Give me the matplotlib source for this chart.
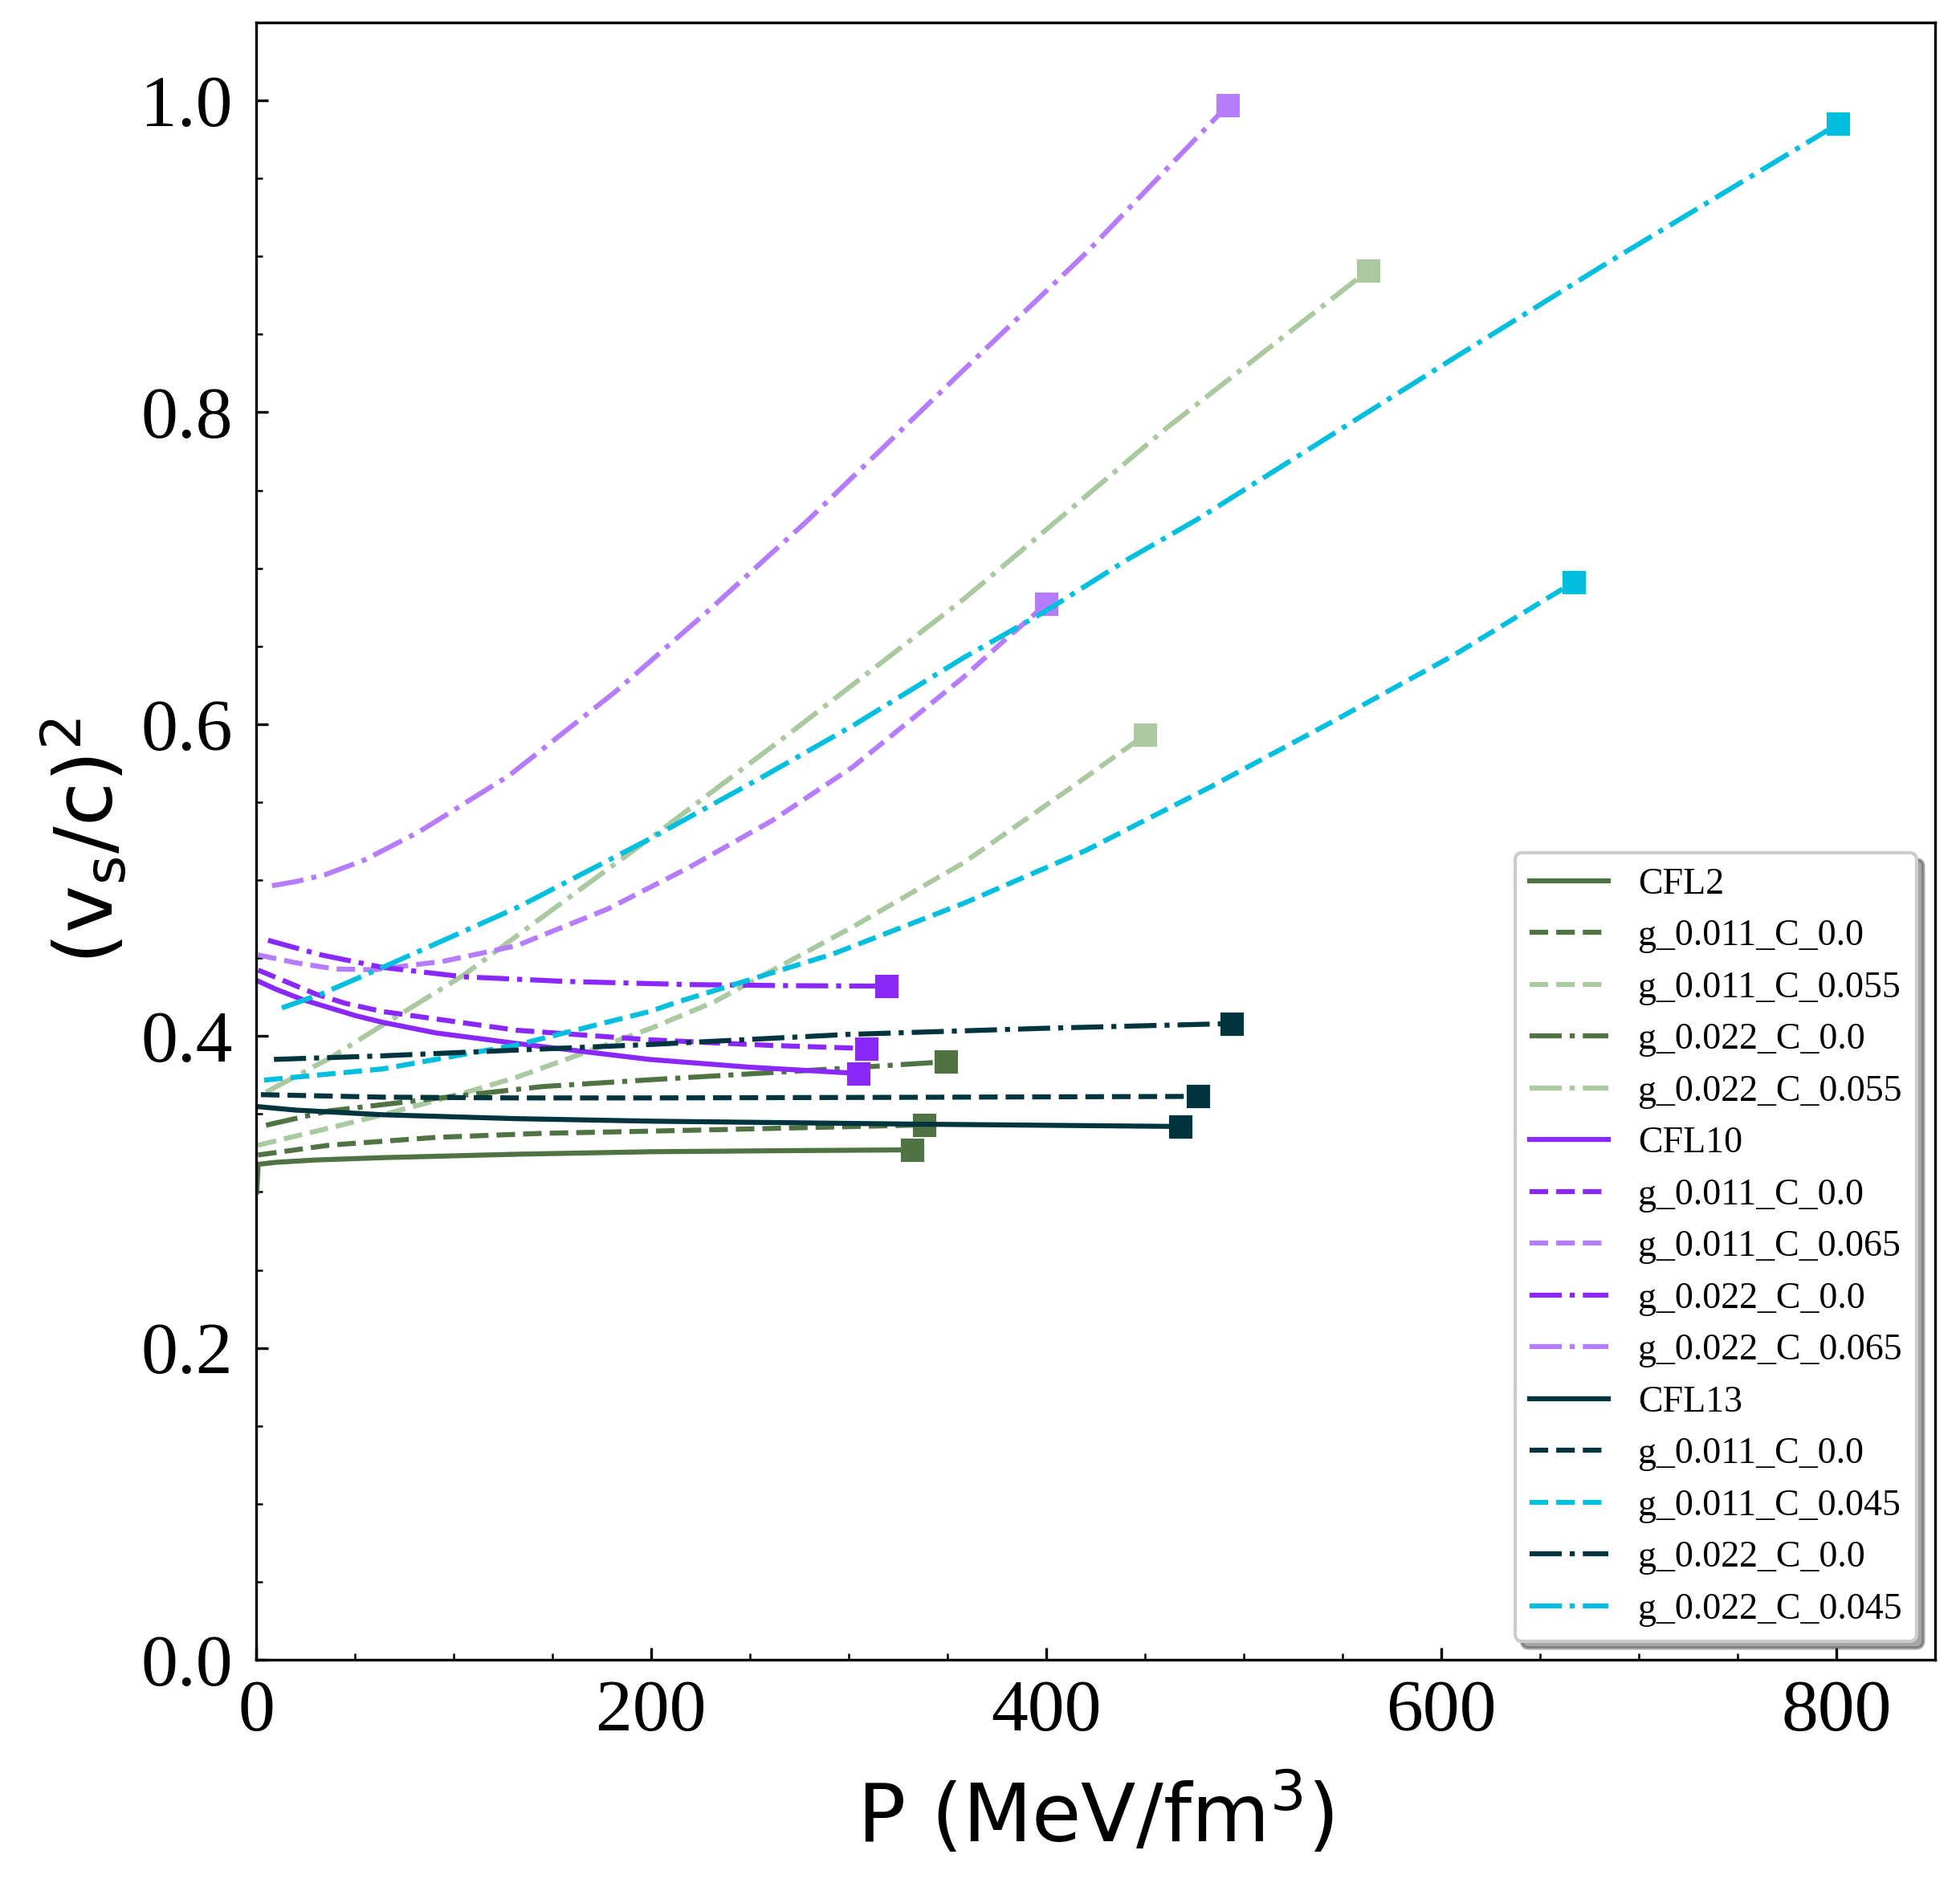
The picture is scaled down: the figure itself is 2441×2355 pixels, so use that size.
import matplotlib
matplotlib.use("Agg")
import matplotlib.pyplot as plt
from matplotlib.ticker import MultipleLocator

# ---------------- data ----------------
# CFL2 family
cfl2_P = [0.3, 1, 10, 30, 64, 132, 200, 270, 332]
cfl2_v = [0.300, 0.3177, 0.319, 0.3205, 0.322, 0.3242, 0.3258, 0.3265, 0.327]
cfl2_g011_C00_P = [1, 37, 91, 145, 200, 270, 338]
cfl2_g011_C00_v = [0.3237, 0.330, 0.335, 0.3376, 0.339, 0.341, 0.343]
cfl2_g011_C055_P = [1, 37, 64, 105, 132, 159, 200, 232, 302, 358, 410, 450]
cfl2_g011_C055_v = [0.330, 0.341, 0.3495, 0.3634, 0.3736, 0.386, 0.405, 0.422, 0.470, 0.511, 0.557, 0.593]
cfl2_g022_C00_P = [5, 37, 91, 145, 200, 299, 349]
cfl2_g022_C00_v = [0.3428, 0.352, 0.360, 0.3676, 0.372, 0.3794, 0.3835]
cfl2_g022_C055_P = [5, 37, 64, 105, 141, 205, 271, 358, 382, 461, 563]
cfl2_g022_C055_v = [0.364, 0.3856, 0.407, 0.439, 0.4727, 0.532, 0.595, 0.680, 0.7055, 0.790, 0.891]

# CFL10 family
cfl10_P = [0.5, 10, 23.4, 50.5, 64, 91, 132, 199, 250, 305]
cfl10_v = [0.4355, 0.430, 0.4234, 0.413, 0.4088, 0.402, 0.3952, 0.385, 0.380, 0.376]
cfl10_g011_C00_P = [1, 30, 45, 64, 132, 199, 260, 309]
cfl10_g011_C00_v = [0.4423, 0.427, 0.421, 0.4157, 0.4037, 0.3976, 0.394, 0.392]
cfl10_g011_C065_P = [1, 20, 40, 60, 95, 132, 178, 219, 261, 302, 358, 379, 400]
cfl10_g011_C065_v = [0.452, 0.447, 0.443, 0.4425, 0.448, 0.458, 0.4815, 0.508, 0.538, 0.5725, 0.630, 0.654, 0.677]
cfl10_g022_C00_P = [6, 33, 64, 105, 157, 219, 270, 319]
cfl10_g022_C00_v = [0.4614, 0.452, 0.444, 0.438, 0.435, 0.433, 0.4323, 0.432]
cfl10_g022_C065_P = [8, 20, 35, 55, 82.5, 128, 182, 230, 279.5, 358, 420, 492]
cfl10_g022_C065_v = [0.4964, 0.499, 0.5035, 0.513, 0.531, 0.567, 0.621, 0.674, 0.731, 0.827, 0.902, 0.997]

# CFL13 family
cfl13_P = [1, 20, 64, 132, 200, 333, 468]
cfl13_v = [0.3547, 0.3525, 0.3495, 0.347, 0.3454, 0.3435, 0.342]
cfl13_g011_C00_P = [2.4, 64, 132, 200, 330, 477]
cfl13_g011_C00_v = [0.3624, 0.3608, 0.3603, 0.3603, 0.3607, 0.3613]
cfl13_g011_C045_P = [4, 64, 132, 200, 213, 292, 358, 420, 482, 544, 606, 667]
cfl13_g011_C045_v = [0.3717, 0.3789, 0.3943, 0.416, 0.4217, 0.4526, 0.485, 0.519, 0.559, 0.601, 0.644, 0.691]
cfl13_g022_C00_P = [9, 64, 132, 200, 299, 400, 494]
cfl13_g022_C00_v = [0.385, 0.3873, 0.391, 0.3946, 0.401, 0.405, 0.408]
cfl13_g022_C045_P = [13, 33, 64, 132.5, 198.6, 254.7, 302, 358, 399, 441, 476, 601.6, 683, 801]
cfl13_g022_C045_v = [0.418, 0.427, 0.444, 0.4826, 0.526, 0.565, 0.599, 0.6425, 0.672, 0.7055, 0.731, 0.831, 0.895, 0.985]

labels = ["CFL2", "g_0.011_C_0.0", "g_0.011_C_0.055", "g_0.022_C_0.0", "g_0.022_C_0.055",
          "CFL10", "g_0.011_C_0.0", "g_0.011_C_0.065", "g_0.022_C_0.0", "g_0.022_C_0.065",
          "CFL13", "g_0.011_C_0.0", "g_0.011_C_0.045", "g_0.022_C_0.0", "g_0.022_C_0.045"]

series = [
    (cfl2_P, cfl2_v), (cfl2_g011_C00_P, cfl2_g011_C00_v), (cfl2_g011_C055_P, cfl2_g011_C055_v),
    (cfl2_g022_C00_P, cfl2_g022_C00_v), (cfl2_g022_C055_P, cfl2_g022_C055_v),
    (cfl10_P, cfl10_v), (cfl10_g011_C00_P, cfl10_g011_C00_v), (cfl10_g011_C065_P, cfl10_g011_C065_v),
    (cfl10_g022_C00_P, cfl10_g022_C00_v), (cfl10_g022_C065_P, cfl10_g022_C065_v),
    (cfl13_P, cfl13_v), (cfl13_g011_C00_P, cfl13_g011_C00_v), (cfl13_g011_C045_P, cfl13_g011_C045_v),
    (cfl13_g022_C00_P, cfl13_g022_C00_v), (cfl13_g022_C045_P, cfl13_g022_C045_v),
]

# styles
dark = {"CFL2": "#4F7342", "CFL10": "#8A28FC", "CFL13": "#00353F"}
light = {"CFL2": "#ABC9A0", "CFL10": "#B57CFC", "CFL13": "#00BEDE"}
styles = []
for fam in ["CFL2", "CFL10", "CFL13"]:
    styles += [(dark[fam], "-"), (dark[fam], "--"), (light[fam], "--"),
               (dark[fam], "-."), (light[fam], "-.")]

# ---------------- figure ----------------
fig = plt.figure(figsize=(2441 / 300, 2355 / 300), dpi=300)
ax = fig.add_axes([0.1307, 0.1223, 0.8566, 0.8658])

for (P, v), (col, ls), lab in zip(series, styles, labels):
    ax.plot(P, v, color=col, ls=ls, lw=1.5, label=lab)
    ax.plot(P[-1], v[-1], marker="s", ms=6, color=col, ls="none")

ax.set_xlim(0, 850)
ax.set_ylim(0, 1.05)
ax.xaxis.set_major_locator(MultipleLocator(200))
ax.xaxis.set_minor_locator(MultipleLocator(50))
ax.yaxis.set_major_locator(MultipleLocator(0.2))
ax.yaxis.set_minor_locator(MultipleLocator(0.05))
ax.tick_params(which="both", direction="in")
ax.tick_params(axis="x", which="major", pad=6)
ax.tick_params(axis="y", which="major", pad=7)

for lab in ax.get_xticklabels() + ax.get_yticklabels():
    lab.set_fontfamily("Liberation Serif")
    lab.set_fontsize(22)

ax.set_xlabel(r"P (MeV/fm$^3$)", fontsize=24, family="DejaVu Sans", labelpad=8)
ax.set_ylabel(r"(v$_\mathrm{s}$/c)$^2$", fontsize=24, family="DejaVu Sans", labelpad=3)

leg = ax.legend(loc="lower right", shadow=True, fancybox=True,
                prop={"family": "Liberation Serif", "size": 11},
                handlelength=2.15, labelspacing=0.48)

fig.savefig("out.png", dpi=300)
